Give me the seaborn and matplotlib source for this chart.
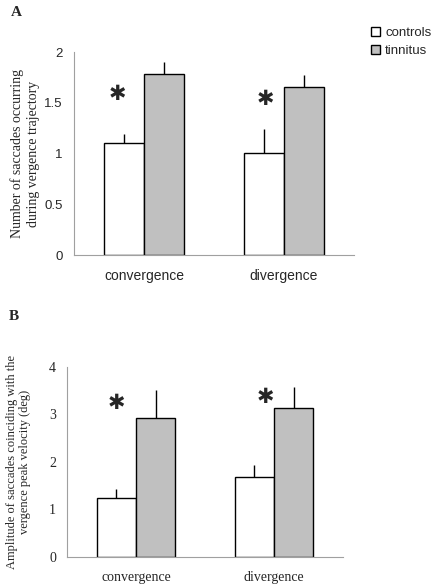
import numpy as np
import pandas as pd
import matplotlib
matplotlib.use('Agg')
import matplotlib.pyplot as plt
import seaborn as sns

# data
categories = ['convergence', 'divergence']
groups = ['controls', 'tinnitus']

count_controls = [1.10, 1.01]
count_tinnitus = [1.78, 1.66]
count_err_controls = [0.09, 0.23]
count_err_tinnitus = [0.12, 0.11]

amp_controls = [1.25, 1.68]
amp_tinnitus = [2.92, 3.14]
amp_err_controls = [0.18, 0.26]
amp_err_tinnitus = [0.60, 0.44]

# asterisk positions (data coords) for significant differences
star_x_a = [-0.19, 0.87]
star_y_a = [1.59, 1.54]
star_x_b = [-0.14, 0.94]
star_y_b = [3.24, 3.36]

colors = {'controls': 'white', 'tinnitus': '#c0c0c0'}
spine_col = '#a0a0a0'

sns.set_style('white')
plt.rcParams['font.family'] = ['Liberation Sans', 'DejaVu Sans']


def long_table(controls, tinnitus):
    return pd.DataFrame({
        'category': categories * 2,
        'group': ['controls'] * 2 + ['tinnitus'] * 2,
        'value': list(controls) + list(tinnitus),
    })


def draw_panel(ax, controls, tinnitus, err_c, err_t, legend):
    df = long_table(controls, tinnitus)
    sns.barplot(data=df, x='category', y='value', hue='group',
                hue_order=groups, palette=colors, width=0.57,
                edgecolor='black', linewidth=1.0, errorbar=None,
                legend=legend, ax=ax)
    # upper-only error bars
    for cont, err in zip(ax.containers, [err_c, err_t]):
        xs = [p.get_x() + p.get_width() / 2 for p in cont.patches]
        ys = [p.get_height() for p in cont.patches]
        ax.errorbar(xs, ys, yerr=[np.zeros(len(err)), err], fmt='none',
                    ecolor='black', elinewidth=1.0, capsize=0, zorder=1)
    ax.set_xlim(-0.5, 1.5)
    ax.set_xlabel('')
    sns.despine(ax=ax)
    for s in ['left', 'bottom']:
        ax.spines[s].set_color(spine_col)
        ax.spines[s].set_linewidth(0.8)
    ax.set_xticks([-0.5, 0.5, 1.5], minor=False)
    ax.set_xticks([0, 1], minor=True)
    ax.set_xticklabels(['', '', ''])
    ax.set_xticklabels(categories, minor=True)
    ax.tick_params(axis='x', which='major', length=3, color=spine_col,
                   direction='out', width=0.8)
    ax.tick_params(axis='x', which='minor', length=0, pad=10)
    ax.tick_params(axis='y', length=3, color=spine_col, direction='out',
                   width=0.8, pad=5)


fig = plt.figure(figsize=(4.36, 5.88), dpi=100)
ax_a = fig.add_axes([0.1697, 0.5663, 0.642, 0.3452])
ax_b = fig.add_axes([0.1537, 0.0527, 0.633, 0.3237])

# panel A: number of saccades
draw_panel(ax_a, count_controls, count_tinnitus,
           count_err_controls, count_err_tinnitus, legend=True)
ax_a.set_ylim(0, 2)
ax_a.set_yticks([0, 0.5, 1, 1.5, 2])
ax_a.set_yticklabels(['0', '0.5', '1', '1.5', '2'])
ax_a.tick_params(axis='y', labelsize=9.5)
ax_a.tick_params(axis='x', which='minor', labelsize=10)
ax_a.set_ylabel('Number of saccades occurring\nduring vergence trajectory',
                family='Liberation Serif', fontsize=10, labelpad=3,
                linespacing=1.35)
for x, y in zip(star_x_a, star_y_a):
    ax_a.text(x, y, '✱', ha='center', va='center', fontsize=15,
              family='DejaVu Sans')
sns.move_legend(ax_a, 'upper left', bbox_to_anchor=(1.062, 1.125),
                frameon=False, title=None, fontsize=9.5, borderpad=0,
                borderaxespad=0, handlelength=0.7, handleheight=0.7,
                handletextpad=0.35, labelspacing=0.45)

# panel B: saccade amplitude
draw_panel(ax_b, amp_controls, amp_tinnitus,
           amp_err_controls, amp_err_tinnitus, legend=False)
ax_b.set_ylim(0, 4)
ax_b.set_yticks([0, 1, 2, 3, 4])
for lab in ax_b.get_yticklabels() + ax_b.get_xticklabels(minor=True):
    lab.set_family('Liberation Serif')
    lab.set_fontsize(10)
ax_b.set_ylabel('Amplitude of saccades coinciding with the\n'
                'vergence peak velocity (deg)',
                family='Liberation Serif', fontsize=9, labelpad=13,
                linespacing=1.1)
for x, y in zip(star_x_b, star_y_b):
    ax_b.text(x, y, '✱', ha='center', va='center', fontsize=15,
              family='DejaVu Sans')

fig.text(16 / 436, 1 - 13 / 588, 'A', family='Liberation Serif',
         fontweight='bold', fontsize=11, ha='center', va='center')
fig.text(14 / 436, 1 - 316 / 588, 'B', family='Liberation Serif',
         fontweight='bold', fontsize=11, ha='center', va='center')

fig.savefig('out.png', dpi=100)
